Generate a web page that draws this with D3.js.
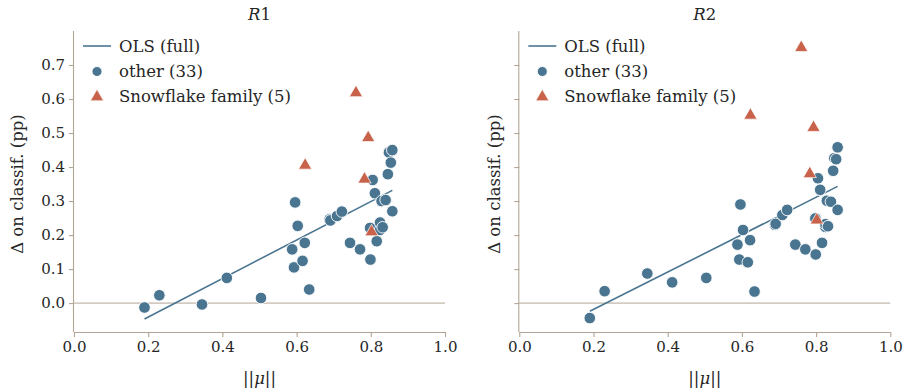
<!DOCTYPE html>
<html>
<head>
<meta charset="utf-8">
<script src="https://cdn.jsdelivr.net/npm/d3@7"></script>
<style>
  body { margin: 0; background: #fff; }
  text { font-family: "DejaVu Serif", serif; fill: #262626; }
</style>
</head>
<body>
<svg id="chart"></svg>
<script>
// data
var otherMu = [0.19, 0.23, 0.345, 0.412, 0.504, 0.588, 0.593, 0.596, 0.603, 0.616, 0.622,
  0.634, 0.689, 0.691, 0.709, 0.722, 0.744, 0.771, 0.799, 0.798, 0.805, 0.811, 0.816,
  0.825, 0.825, 0.829, 0.832, 0.840, 0.846, 0.849, 0.854, 0.858, 0.858];
var otherR1 = [-0.013, 0.023, -0.004, 0.074, 0.015, 0.158, 0.105, 0.296, 0.227, 0.124, 0.177,
  0.040, 0.246, 0.243, 0.256, 0.269, 0.177, 0.158, 0.128, 0.221, 0.362, 0.323, 0.182,
  0.215, 0.237, 0.300, 0.223, 0.303, 0.379, 0.443, 0.413, 0.450, 0.270];
var otherR2 = [-0.044, 0.035, 0.087, 0.061, 0.074, 0.172, 0.128, 0.290, 0.215, 0.120, 0.185,
  0.034, 0.230, 0.233, 0.259, 0.274, 0.172, 0.158, 0.143, 0.249, 0.367, 0.333, 0.177,
  0.224, 0.232, 0.301, 0.226, 0.298, 0.389, 0.426, 0.423, 0.458, 0.274];

var snowMu = [0.760, 0.793, 0.623, 0.783, 0.802];
var snowR1 = [0.621, 0.489, 0.408, 0.367, 0.212];
var snowR2 = [0.754, 0.519, 0.555, 0.383, 0.247];

var panels = [
  {title: "R", sub: "1", other: otherR1, snow: snowR1},
  {title: "R", sub: "2", other: otherR2, snow: snowR2}
];

var xTicks = [0.0, 0.2, 0.4, 0.6, 0.8, 1.0];
var yTicks = [0.0, 0.1, 0.2, 0.3, 0.4, 0.5, 0.6, 0.7];

var legendLabels = ["OLS (full)", "other (33)", "Snowflake family (5)"];

// look
var size = {width: 906, height: 389};
var panelLeft = [74, 519.3];
var panelWidth = 371;
var plotTop = 31, plotBottom = 332;
var blue = "#4a7591", red = "#c8624a", spine = "#b3a596";

var svg = d3.select("#chart")
  .attr("width", size.width)
  .attr("height", size.height);

var y = d3.scaleLinear().domain([-0.085, 0.8]).range([plotBottom, plotTop]);

function ols(xs, ys) {
  var mx = d3.mean(xs), my = d3.mean(ys);
  var sxy = 0, sxx = 0;
  xs.forEach(function(v, i) { sxy += (v - mx) * (ys[i] - my); sxx += (v - mx) * (v - mx); });
  var b = sxy / sxx;
  return {b: b, a: my - b * mx};
}

panels.forEach(function(p, pi) {
  var x = d3.scaleLinear().domain([0, 1]).range([panelLeft[pi], panelLeft[pi] + panelWidth]);
  var g = svg.append("g");

  // zero line
  g.append("line")
    .attr("x1", x(0)).attr("x2", x(1))
    .attr("y1", y(0)).attr("y2", y(0))
    .attr("stroke", spine).attr("stroke-width", 1);

  // axes
  var xAxis = d3.axisBottom(x).tickValues(xTicks).tickFormat(d3.format(".1f")).tickSize(5).tickPadding(4);
  var yAxis = d3.axisLeft(y).tickValues(yTicks).tickFormat(pi === 0 ? d3.format(".1f") : "").tickSize(5).tickPadding(4);

  var gx = g.append("g").attr("transform", "translate(0," + plotBottom + ")").call(xAxis);
  var gy = g.append("g").attr("transform", "translate(" + x(0) + ",0)").call(yAxis);
  [gx, gy].forEach(function(a) {
    a.select(".domain").attr("stroke", spine).attr("stroke-width", 1.1);
    a.selectAll(".tick line").attr("stroke", spine).attr("stroke-width", 1.1);
    a.selectAll(".tick text").style("font-family", "DejaVu Serif").style("font-size", "15px").attr("fill", "#262626");
  });
  // no outer tick caps on the domain
  gx.select(".domain").attr("d", "M" + x(0) + ",0.5H" + x(1));
  gy.select(".domain").attr("d", "M-0.5," + plotTop + "V" + plotBottom);

  // OLS over all points
  var allX = otherMu.concat(snowMu), allY = p.other.concat(p.snow);
  var fit = ols(allX, allY);
  var x0 = d3.min(allX), x1 = d3.max(allX);
  g.append("path")
    .datum([x0, x1])
    .attr("fill", "none").attr("stroke", blue).attr("stroke-width", 1.6)
    .attr("d", d3.line().x(function(d) { return x(d); }).y(function(d) { return y(fit.a + fit.b * d); }));

  // other points
  g.selectAll("circle.pt")
    .data(otherMu)
    .enter().append("circle")
    .attr("class", "pt")
    .attr("cx", function(d) { return x(d); })
    .attr("cy", function(d, i) { return y(p.other[i]); })
    .attr("r", 5.8)
    .attr("fill", blue)
    .attr("stroke", "#fff").attr("stroke-width", 0.9);

  // snowflake points
  var tri = d3.symbol().type(d3.symbolTriangle).size(76);
  g.selectAll("path.tri")
    .data(snowMu)
    .enter().append("path")
    .attr("class", "tri")
    .attr("d", tri)
    .attr("transform", function(d, i) { return "translate(" + x(d) + "," + (y(p.snow[i]) + 1) + ")"; })
    .attr("fill", red)
    .attr("stroke", "#fff").attr("stroke-width", 0.7);

  // title
  var t = g.append("text")
    .attr("x", x(0.5)).attr("y", 20)
    .attr("text-anchor", "middle")
    .style("font-size", "16.5px");
  t.append("tspan").style("font-style", "italic").text(p.title);
  t.append("tspan").text(p.sub);

  // x label
  var xl = g.append("text")
    .attr("x", x(0.5)).attr("y", 384)
    .attr("text-anchor", "middle")
    .style("font-size", "16.5px");
  xl.append("tspan").text("||");
  xl.append("tspan").style("font-style", "italic").text("μ");
  xl.append("tspan").text("||");

  // y label
  var ylx = pi === 0 ? 23 : x(0) - 19;
  g.append("text")
    .attr("transform", "translate(" + ylx + "," + y(0.35) + ") rotate(-90)")
    .attr("text-anchor", "middle")
    .style("font-size", "16.5px")
    .text("Δ on classif. (pp)");

  // legend
  var lx = x(0) + 9, ly = 46;
  var leg = g.append("g");
  leg.append("line")
    .attr("x1", lx).attr("x2", lx + 28)
    .attr("y1", ly).attr("y2", ly)
    .attr("stroke", blue).attr("stroke-width", 1.6);
  leg.append("circle")
    .attr("cx", lx + 14).attr("cy", ly + 25.5).attr("r", 5)
    .attr("fill", blue).attr("stroke", "#fff").attr("stroke-width", 0.9);
  leg.append("path")
    .attr("d", d3.symbol().type(d3.symbolTriangle).size(76))
    .attr("transform", "translate(" + (lx + 14) + "," + (ly + 51) + ")")
    .attr("fill", red).attr("stroke", "#fff").attr("stroke-width", 0.7);
  leg.selectAll("text.lab")
    .data(legendLabels)
    .enter().append("text")
    .attr("class", "lab")
    .attr("x", lx + 36)
    .attr("y", function(d, i) { return ly + 5.5 + i * 25; })
    .style("font-size", "16.5px")
    .text(function(d) { return d; });
});
</script>
</body>
</html>
